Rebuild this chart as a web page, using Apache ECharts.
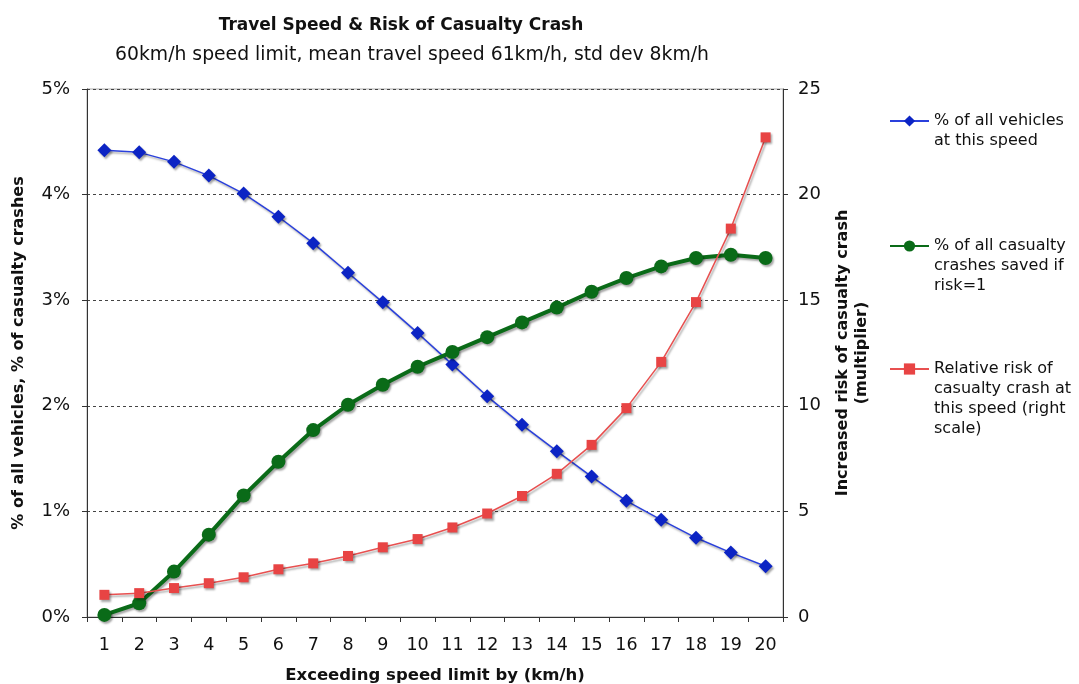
<!DOCTYPE html>
<html>
<head>
<meta charset="utf-8">
<script src="https://cdn.jsdelivr.net/npm/echarts@6/dist/echarts.min.js"></script>
<style>
  html, body { margin: 0; padding: 0; background: #fff; }
  #chart { width: 1079px; height: 684px; }
</style>
</head>
<body>
<div id="chart"></div>
<script>
const FONT = '"DejaVu Sans", Verdana, sans-serif'

// km/h over the limit
const overLimit = ['1', '2', '3', '4', '5', '6', '7', '8', '9', '10',
  '11', '12', '13', '14', '15', '16', '17', '18', '19', '20']

// % of all vehicles at this speed
const pctVehicles = [4.42, 4.40, 4.31, 4.18, 4.01, 3.79, 3.54, 3.26, 2.98, 2.69,
  2.39, 2.09, 1.82, 1.57, 1.33, 1.10, 0.92, 0.75, 0.61, 0.48]

// % of all casualty crashes saved if risk = 1
const pctSaved = [0.02, 0.13, 0.43, 0.78, 1.15, 1.47, 1.77, 2.01, 2.20, 2.37,
  2.51, 2.65, 2.79, 2.93, 3.08, 3.21, 3.32, 3.40, 3.43, 3.40]

// relative risk of a casualty crash (right scale)
const relRisk = [1.05, 1.13, 1.37, 1.60, 1.88, 2.26, 2.54, 2.89, 3.30, 3.69,
  4.24, 4.90, 5.73, 6.78, 8.15, 9.89, 12.08, 14.91, 18.39, 22.71]

const NAMES = [
  '% of all vehicles\nat this speed',
  '% of all casualty\ncrashes saved if\nrisk=1',
  'Relative risk of\ncasualty crash at\nthis speed (right\nscale)'
]
const COLORS = ['#0c24c4', '#0a6b18', '#e84444']
const SHADOW = { shadowColor: 'rgba(0,0,0,0.35)', shadowOffsetX: 1.5, shadowOffsetY: 2, shadowBlur: 2 }

// one legend per series; blank lines in front keep the icon level with the first text line
function legendFor(i, iconY) {
  const lines = NAMES[i].split('\n').length
  const lh = 20
  return {
    data: [NAMES[i]],
    orient: 'vertical',
    left: 889,
    top: iconY - (2 * lines - 1) * lh / 2,
    padding: 0,
    itemWidth: 39,
    itemHeight: 14,
    selectedMode: false,
    formatter: name => '\n'.repeat(lines - 1) + name,
    textStyle: { fontFamily: FONT, fontSize: 16, color: '#111', lineHeight: lh }
  }
}

const chart = echarts.init(document.getElementById('chart'))
chart.setOption({
  animation: false,
  backgroundColor: '#fff',
  title: [
    {
      text: 'Travel Speed & Risk of Casualty Crash',
      left: 396, top: 12, textAlign: 'center',
      textStyle: { fontFamily: FONT, fontSize: 17, fontWeight: 'bold', color: '#111' }
    },
    {
      text: '60km/h speed limit, mean travel speed 61km/h, std dev 8km/h',
      left: 407, top: 41, textAlign: 'center',
      textStyle: { fontFamily: FONT, fontSize: 18.8, fontWeight: 'normal', color: '#111' }
    }
  ],
  legend: [legendFor(0, 121), legendFor(1, 246), legendFor(2, 369)],
  grid: {
    left: 87, right: 296, top: 89, bottom: 67,
    outerBoundsMode: 'none',
    show: true, borderColor: '#aaa', borderWidth: 1
  },
  xAxis: {
    type: 'category',
    data: overLimit,
    boundaryGap: true,
    name: 'Exceeding speed limit by (km/h)',
    nameLocation: 'middle',
    nameGap: 50,
    nameTextStyle: { fontFamily: FONT, fontSize: 16.5, fontWeight: 'bold', color: '#111' },
    axisLine: { lineStyle: { color: '#333', width: 1 } },
    axisTick: { show: true, length: 5, lineStyle: { color: '#333' } },
    axisLabel: { fontFamily: FONT, fontSize: 17.5, color: '#111', margin: 19 }
  },
  yAxis: [
    {
      type: 'value',
      min: 0, max: 5, interval: 1,
      name: '% of all vehicles, % of casualty crashes',
      nameLocation: 'middle',
      nameGap: 60,
      nameTextStyle: { fontFamily: FONT, fontSize: 16, fontWeight: 'bold', color: '#111' },
      axisLine: { show: true, lineStyle: { color: '#333', width: 1 } },
      axisTick: { show: true, length: 5, lineStyle: { color: '#333' } },
      axisLabel: { fontFamily: FONT, fontSize: 18, color: '#111', margin: 17, formatter: '{value}%' },
      splitLine: { show: true, lineStyle: { color: '#444', type: [3, 3], width: 1 } }
    },
    {
      type: 'value',
      min: 0, max: 25, interval: 5,
      position: 'right',
      name: 'Increased risk of casualty crash\n(multiplier)',
      nameLocation: 'middle',
      nameGap: 50,
      nameTextStyle: { fontFamily: FONT, fontSize: 16, fontWeight: 'bold', color: '#111', lineHeight: 19 },
      axisLine: { show: true, lineStyle: { color: '#333', width: 1 } },
      axisTick: { show: true, length: 5, lineStyle: { color: '#333' } },
      axisLabel: { fontFamily: FONT, fontSize: 18, color: '#111', margin: 15 },
      splitLine: { show: false }
    }
  ],
  series: [
    {
      name: NAMES[0],
      type: 'line',
      yAxisIndex: 0,
      data: pctVehicles,
      symbol: 'diamond',
      symbolSize: 14,
      lineStyle: Object.assign({ color: '#2a40dc', width: 1.5 }, SHADOW),
      itemStyle: Object.assign({ color: COLORS[0] }, SHADOW)
    },
    {
      name: NAMES[1],
      type: 'line',
      yAxisIndex: 0,
      data: pctSaved,
      symbol: 'circle',
      symbolSize: 14,
      lineStyle: Object.assign({ color: COLORS[1], width: 4 }, SHADOW),
      itemStyle: Object.assign({ color: COLORS[1] }, SHADOW)
    },
    {
      name: NAMES[2],
      type: 'line',
      yAxisIndex: 1,
      data: relRisk,
      symbol: 'rect',
      symbolSize: 10,
      lineStyle: Object.assign({ color: '#e85050', width: 1.5 }, SHADOW),
      itemStyle: Object.assign({ color: COLORS[2] }, SHADOW)
    }
  ]
})
</script>
</body>
</html>
